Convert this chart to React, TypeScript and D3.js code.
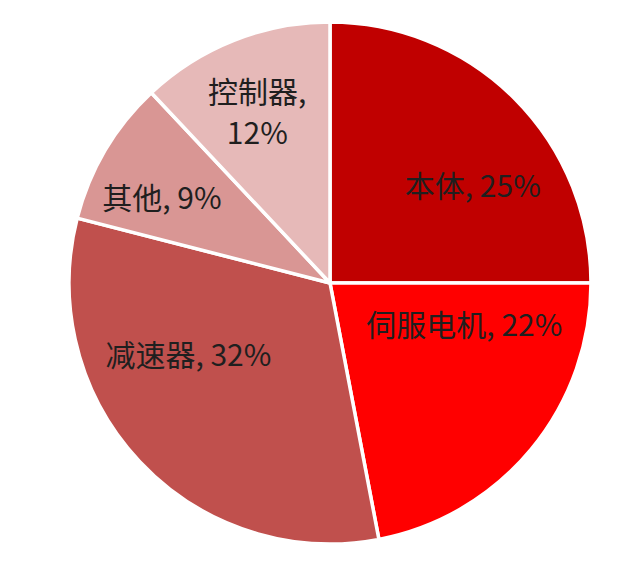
import React, { useEffect, useRef } from 'react';
import * as d3 from 'd3';

// 工业机器人成本构成
const categories = ['本体', '伺服电机', '减速器', '其他', '控制器'];
const shares = [25, 22, 32, 9, 12];
const sliceColors = ['#C00000', '#FF0000', '#C0504D', '#D99694', '#E6B9B8'];

// label placement relative to each slice's bisector (degrees shift, radius fraction)
const labelShift = [11, -22, 16, -4, -1.5];
const labelRadius = [0.66, 0.54, 0.61, 0.72, 0.71];
const labelWrap = [false, false, false, false, true];

const W = 640;
const H = 567;

const App: React.FC = () => {
  const svgRef = useRef<SVGSVGElement>(null);

  useEffect(() => {
    document.body.style.margin = '0';
    if (!svgRef.current) return;

    const cx = 330;
    const cy = 283;
    const radius = 261;

    const svg = d3.select(svgRef.current);
    svg.selectAll('*').remove();

    svg.append('rect').attr('width', W).attr('height', H).attr('fill', '#fff');

    const g = svg.append('g').attr('transform', `translate(${cx}, ${cy})`);

    const data = categories.map((name, i) => ({ name, value: shares[i], i }));

    const pie = d3.pie<{ name: string; value: number; i: number }>()
      .value(d => d.value)
      .sort(null)
      .startAngle(0)
      .endAngle(Math.PI * 2);

    const arc = d3.arc<d3.PieArcDatum<{ name: string; value: number; i: number }>>()
      .innerRadius(0)
      .outerRadius(radius);

    const arcs = pie(data);

    g.selectAll('path.slice')
      .data(arcs)
      .enter()
      .append('path')
      .attr('class', 'slice')
      .attr('d', arc)
      .attr('fill', d => sliceColors[d.data.i])
      .attr('stroke', '#fff')
      .attr('stroke-width', 3.5)
      .attr('stroke-linejoin', 'round');

    const labels = g.selectAll('g.label')
      .data(arcs)
      .enter()
      .append('g')
      .attr('class', 'label')
      .attr('transform', d => {
        const mid = (d.startAngle + d.endAngle) / 2 + (labelShift[d.data.i] * Math.PI) / 180;
        const r = labelRadius[d.data.i] * radius;
        return `translate(${r * Math.sin(mid)}, ${-r * Math.cos(mid)})`;
      });

    labels.each(function (d) {
      const lines = labelWrap[d.data.i]
        ? [`${d.data.name},`, `${d.data.value}%`]
        : [`${d.data.name}, ${d.data.value}%`];
      const lh = 41;
      const t = d3.select(this)
        .append('text')
        .attr('text-anchor', 'middle')
        .attr('font-family', '"Noto Sans CJK SC", "Noto Sans", sans-serif')
        .attr('font-size', 30)
        .attr('fill', '#1f1f1f');
      lines.forEach((line, k) => {
        t.append('tspan')
          .attr('x', 0)
          .attr('y', (k - (lines.length - 1) / 2) * lh)
          .attr('dy', '0.35em')
          .text(line);
      });
    });
  }, []);

  return <svg ref={svgRef} width={W} height={H} style={{ display: 'block' }} />;
};

export default App;
